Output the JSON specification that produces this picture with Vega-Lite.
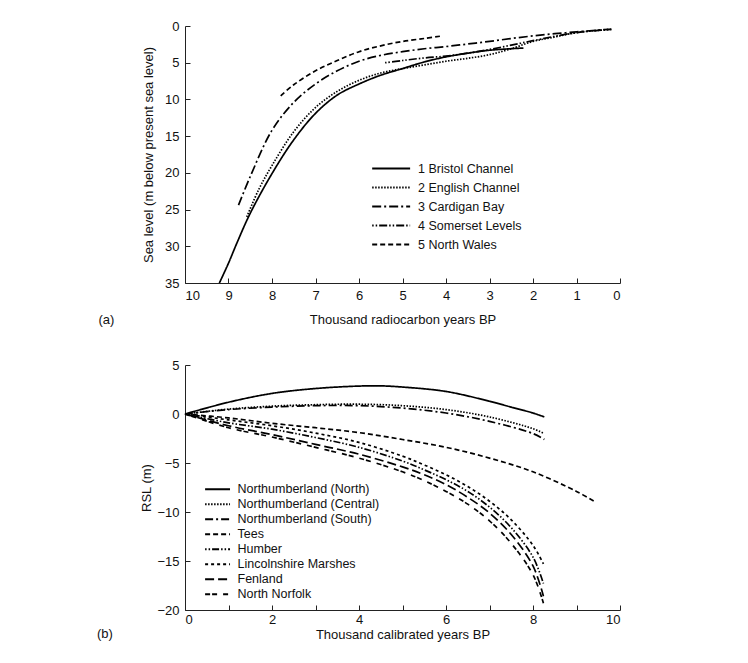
{
  "$schema": "https://vega.github.io/schema/vega-lite/v6.json",
  "background": "white",
  "padding": {"left": 96, "top": 20, "right": 10, "bottom": 10},
  "spacing": 32,
  "resolve": {"scale": {"strokeDash": "independent"}, "legend": {"strokeDash": "independent"}},
  "config": {
    "font": "Liberation Sans",
    "view": {"stroke": null},
    "axis": {
      "grid": false,
      "domainColor": "#222",
      "tickColor": "#222",
      "labelColor": "#111",
      "titleColor": "#111",
      "labelFontSize": 13,
      "titleFontSize": 13,
      "titleFontWeight": "normal",
      "tickSize": -5,
      "labelPadding": 11
    },
    "legend": {
      "labelFontSize": 12.5,
      "labelColor": "#111",
      "symbolStrokeColor": "black",
      "symbolStrokeWidth": 1.8
    }
  },
  "datasets": {
    "top": [
      {"s": "1 Bristol Channel", "kyr": 9.21, "m": 35},
      {"s": "1 Bristol Channel", "kyr": 9.0, "m": 32.3},
      {"s": "1 Bristol Channel", "kyr": 8.81, "m": 29.6},
      {"s": "1 Bristol Channel", "kyr": 8.5, "m": 25.5},
      {"s": "1 Bristol Channel", "kyr": 8.0, "m": 20.1},
      {"s": "1 Bristol Channel", "kyr": 7.5, "m": 15.5},
      {"s": "1 Bristol Channel", "kyr": 7.0, "m": 11.9},
      {"s": "1 Bristol Channel", "kyr": 6.5, "m": 9.4},
      {"s": "1 Bristol Channel", "kyr": 6.0, "m": 7.9},
      {"s": "1 Bristol Channel", "kyr": 5.5, "m": 6.7},
      {"s": "1 Bristol Channel", "kyr": 5.0, "m": 5.8},
      {"s": "1 Bristol Channel", "kyr": 4.5, "m": 4.9},
      {"s": "1 Bristol Channel", "kyr": 4.0, "m": 4.2},
      {"s": "1 Bristol Channel", "kyr": 3.5, "m": 3.7},
      {"s": "1 Bristol Channel", "kyr": 3.0, "m": 3.3},
      {"s": "1 Bristol Channel", "kyr": 2.22, "m": 3.0},
      {"s": "2 English Channel", "kyr": 8.58, "m": 26},
      {"s": "2 English Channel", "kyr": 8.3, "m": 22.2},
      {"s": "2 English Channel", "kyr": 8.0, "m": 19.0},
      {"s": "2 English Channel", "kyr": 7.5, "m": 14.4},
      {"s": "2 English Channel", "kyr": 7.0, "m": 11.1},
      {"s": "2 English Channel", "kyr": 6.5, "m": 8.9},
      {"s": "2 English Channel", "kyr": 6.0, "m": 7.4},
      {"s": "2 English Channel", "kyr": 5.5, "m": 6.4},
      {"s": "2 English Channel", "kyr": 5.0, "m": 5.8},
      {"s": "2 English Channel", "kyr": 4.5, "m": 5.3},
      {"s": "2 English Channel", "kyr": 4.0, "m": 4.8},
      {"s": "2 English Channel", "kyr": 3.5, "m": 4.4},
      {"s": "2 English Channel", "kyr": 3.0, "m": 3.9},
      {"s": "2 English Channel", "kyr": 2.5, "m": 3.1},
      {"s": "2 English Channel", "kyr": 2.0, "m": 2.1},
      {"s": "2 English Channel", "kyr": 1.5, "m": 1.5},
      {"s": "2 English Channel", "kyr": 1.0, "m": 0.9},
      {"s": "2 English Channel", "kyr": 0.5, "m": 0.6},
      {"s": "2 English Channel", "kyr": 0.2, "m": 0.45},
      {"s": "3 Cardigan Bay", "kyr": 8.77, "m": 24.4},
      {"s": "3 Cardigan Bay", "kyr": 8.5, "m": 20.5},
      {"s": "3 Cardigan Bay", "kyr": 8.0, "m": 14.2},
      {"s": "3 Cardigan Bay", "kyr": 7.5, "m": 10.4},
      {"s": "3 Cardigan Bay", "kyr": 7.0, "m": 7.9},
      {"s": "3 Cardigan Bay", "kyr": 6.5, "m": 6.1},
      {"s": "3 Cardigan Bay", "kyr": 6.0, "m": 4.8},
      {"s": "3 Cardigan Bay", "kyr": 5.5, "m": 4.0},
      {"s": "3 Cardigan Bay", "kyr": 5.0, "m": 3.5},
      {"s": "3 Cardigan Bay", "kyr": 4.5, "m": 3.1},
      {"s": "3 Cardigan Bay", "kyr": 4.0, "m": 2.8},
      {"s": "3 Cardigan Bay", "kyr": 3.5, "m": 2.45},
      {"s": "3 Cardigan Bay", "kyr": 3.0, "m": 2.1},
      {"s": "3 Cardigan Bay", "kyr": 2.5, "m": 1.7},
      {"s": "3 Cardigan Bay", "kyr": 2.0, "m": 1.35},
      {"s": "3 Cardigan Bay", "kyr": 1.5, "m": 1.05},
      {"s": "3 Cardigan Bay", "kyr": 1.0, "m": 0.8},
      {"s": "3 Cardigan Bay", "kyr": 0.5, "m": 0.55},
      {"s": "3 Cardigan Bay", "kyr": 0.2, "m": 0.45},
      {"s": "4 Somerset Levels", "kyr": 5.4, "m": 5.0},
      {"s": "4 Somerset Levels", "kyr": 5.0, "m": 4.7},
      {"s": "4 Somerset Levels", "kyr": 4.5, "m": 4.35},
      {"s": "4 Somerset Levels", "kyr": 4.0, "m": 4.1},
      {"s": "4 Somerset Levels", "kyr": 3.5, "m": 3.7},
      {"s": "4 Somerset Levels", "kyr": 3.0, "m": 3.2},
      {"s": "4 Somerset Levels", "kyr": 2.5, "m": 2.6},
      {"s": "4 Somerset Levels", "kyr": 2.0, "m": 2.0},
      {"s": "4 Somerset Levels", "kyr": 1.5, "m": 1.4},
      {"s": "4 Somerset Levels", "kyr": 1.0, "m": 0.9},
      {"s": "4 Somerset Levels", "kyr": 0.5, "m": 0.6},
      {"s": "4 Somerset Levels", "kyr": 0.2, "m": 0.45},
      {"s": "5 North Wales", "kyr": 7.8, "m": 9.5},
      {"s": "5 North Wales", "kyr": 7.5, "m": 8.0},
      {"s": "5 North Wales", "kyr": 7.0, "m": 6.1},
      {"s": "5 North Wales", "kyr": 6.5, "m": 4.7},
      {"s": "5 North Wales", "kyr": 6.0, "m": 3.5},
      {"s": "5 North Wales", "kyr": 5.5, "m": 2.7},
      {"s": "5 North Wales", "kyr": 5.0, "m": 2.1},
      {"s": "5 North Wales", "kyr": 4.5, "m": 1.7},
      {"s": "5 North Wales", "kyr": 4.14, "m": 1.4}
    ],
    "bottom": [
      {"site": "Northumberland (North)", "kyr": 0, "rsl": 0},
      {"site": "Northumberland (North)", "kyr": 1, "rsl": 1.2},
      {"site": "Northumberland (North)", "kyr": 2, "rsl": 2.1},
      {"site": "Northumberland (North)", "kyr": 3, "rsl": 2.6},
      {"site": "Northumberland (North)", "kyr": 4, "rsl": 2.85},
      {"site": "Northumberland (North)", "kyr": 4.5, "rsl": 2.87},
      {"site": "Northumberland (North)", "kyr": 5, "rsl": 2.75},
      {"site": "Northumberland (North)", "kyr": 6, "rsl": 2.3},
      {"site": "Northumberland (North)", "kyr": 7, "rsl": 1.3},
      {"site": "Northumberland (North)", "kyr": 7.5, "rsl": 0.7},
      {"site": "Northumberland (North)", "kyr": 8, "rsl": 0.1},
      {"site": "Northumberland (North)", "kyr": 8.26, "rsl": -0.3},
      {"site": "Northumberland (Central)", "kyr": 0, "rsl": 0},
      {"site": "Northumberland (Central)", "kyr": 1, "rsl": 0.5},
      {"site": "Northumberland (Central)", "kyr": 2, "rsl": 0.8},
      {"site": "Northumberland (Central)", "kyr": 3, "rsl": 0.95},
      {"site": "Northumberland (Central)", "kyr": 4, "rsl": 1.0},
      {"site": "Northumberland (Central)", "kyr": 5, "rsl": 0.85},
      {"site": "Northumberland (Central)", "kyr": 6, "rsl": 0.45},
      {"site": "Northumberland (Central)", "kyr": 7, "rsl": -0.3},
      {"site": "Northumberland (Central)", "kyr": 8, "rsl": -1.5},
      {"site": "Northumberland (Central)", "kyr": 8.26, "rsl": -2.0},
      {"site": "Northumberland (South)", "kyr": 0, "rsl": 0},
      {"site": "Northumberland (South)", "kyr": 1, "rsl": 0.45},
      {"site": "Northumberland (South)", "kyr": 2, "rsl": 0.7},
      {"site": "Northumberland (South)", "kyr": 3, "rsl": 0.85},
      {"site": "Northumberland (South)", "kyr": 4, "rsl": 0.85},
      {"site": "Northumberland (South)", "kyr": 5, "rsl": 0.6},
      {"site": "Northumberland (South)", "kyr": 6, "rsl": 0.1},
      {"site": "Northumberland (South)", "kyr": 7, "rsl": -0.75},
      {"site": "Northumberland (South)", "kyr": 8, "rsl": -2.0},
      {"site": "Northumberland (South)", "kyr": 8.26, "rsl": -2.6},
      {"site": "Tees", "kyr": 0, "rsl": 0},
      {"site": "Tees", "kyr": 1, "rsl": -0.4},
      {"site": "Tees", "kyr": 2, "rsl": -0.95},
      {"site": "Tees", "kyr": 3, "rsl": -1.4},
      {"site": "Tees", "kyr": 4, "rsl": -1.9},
      {"site": "Tees", "kyr": 5, "rsl": -2.6},
      {"site": "Tees", "kyr": 6, "rsl": -3.4},
      {"site": "Tees", "kyr": 7, "rsl": -4.5},
      {"site": "Tees", "kyr": 8, "rsl": -5.9},
      {"site": "Tees", "kyr": 9, "rsl": -7.9},
      {"site": "Tees", "kyr": 9.42, "rsl": -8.95},
      {"site": "Humber", "kyr": 0, "rsl": 0},
      {"site": "Humber", "kyr": 1, "rsl": -0.9},
      {"site": "Humber", "kyr": 2, "rsl": -1.55},
      {"site": "Humber", "kyr": 3, "rsl": -2.4},
      {"site": "Humber", "kyr": 4, "rsl": -3.4},
      {"site": "Humber", "kyr": 5, "rsl": -4.8},
      {"site": "Humber", "kyr": 5.5, "rsl": -5.7},
      {"site": "Humber", "kyr": 6, "rsl": -6.7},
      {"site": "Humber", "kyr": 6.5, "rsl": -7.9},
      {"site": "Humber", "kyr": 7, "rsl": -9.5},
      {"site": "Humber", "kyr": 7.5, "rsl": -11.6},
      {"site": "Humber", "kyr": 8, "rsl": -14.6},
      {"site": "Humber", "kyr": 8.24, "rsl": -17.3},
      {"site": "Lincolnshire Marshes", "kyr": 0, "rsl": 0},
      {"site": "Lincolnshire Marshes", "kyr": 1, "rsl": -0.6},
      {"site": "Lincolnshire Marshes", "kyr": 2, "rsl": -1.2},
      {"site": "Lincolnshire Marshes", "kyr": 3, "rsl": -1.95},
      {"site": "Lincolnshire Marshes", "kyr": 4, "rsl": -2.9},
      {"site": "Lincolnshire Marshes", "kyr": 5, "rsl": -4.3},
      {"site": "Lincolnshire Marshes", "kyr": 5.5, "rsl": -5.2},
      {"site": "Lincolnshire Marshes", "kyr": 6, "rsl": -6.2},
      {"site": "Lincolnshire Marshes", "kyr": 6.5, "rsl": -7.4},
      {"site": "Lincolnshire Marshes", "kyr": 7, "rsl": -8.9},
      {"site": "Lincolnshire Marshes", "kyr": 7.5, "rsl": -10.8},
      {"site": "Lincolnshire Marshes", "kyr": 8, "rsl": -13.4},
      {"site": "Lincolnshire Marshes", "kyr": 8.24, "rsl": -15.3},
      {"site": "Fenland", "kyr": 0, "rsl": 0},
      {"site": "Fenland", "kyr": 1, "rsl": -1.2},
      {"site": "Fenland", "kyr": 2, "rsl": -2.1},
      {"site": "Fenland", "kyr": 3, "rsl": -3.1},
      {"site": "Fenland", "kyr": 4, "rsl": -4.1},
      {"site": "Fenland", "kyr": 5, "rsl": -5.4},
      {"site": "Fenland", "kyr": 5.5, "rsl": -6.2},
      {"site": "Fenland", "kyr": 6, "rsl": -7.2},
      {"site": "Fenland", "kyr": 6.5, "rsl": -8.5},
      {"site": "Fenland", "kyr": 7, "rsl": -10.1},
      {"site": "Fenland", "kyr": 7.5, "rsl": -12.3},
      {"site": "Fenland", "kyr": 8, "rsl": -15.5},
      {"site": "Fenland", "kyr": 8.24, "rsl": -18.6},
      {"site": "North Norfolk", "kyr": 0, "rsl": 0},
      {"site": "North Norfolk", "kyr": 1, "rsl": -1.4},
      {"site": "North Norfolk", "kyr": 2, "rsl": -2.35},
      {"site": "North Norfolk", "kyr": 3, "rsl": -3.4},
      {"site": "North Norfolk", "kyr": 4, "rsl": -4.5},
      {"site": "North Norfolk", "kyr": 5, "rsl": -5.9},
      {"site": "North Norfolk", "kyr": 5.5, "rsl": -6.8},
      {"site": "North Norfolk", "kyr": 6, "rsl": -7.9},
      {"site": "North Norfolk", "kyr": 6.5, "rsl": -9.2},
      {"site": "North Norfolk", "kyr": 7, "rsl": -10.9},
      {"site": "North Norfolk", "kyr": 7.5, "rsl": -13.2},
      {"site": "North Norfolk", "kyr": 8, "rsl": -16.4},
      {"site": "North Norfolk", "kyr": 8.24, "rsl": -19.3}
    ]
  },
  "vconcat": [
    {
      "width": 435,
      "height": 257,
      "data": {"name": "top"},
      "title": {"text": "(a)", "orient": "bottom", "anchor": "start", "dx": -44, "offset": -12, "fontSize": 13, "fontWeight": "normal", "color": "#111"},
      "mark": {"type": "line", "color": "black", "strokeWidth": 1.7, "interpolate": "catmull-rom"},
      "encoding": {
        "x": {"field": "kyr", "type": "quantitative", "scale": {"domain": [0, 10], "reverse": true, "nice": false},
              "axis": {"values": [0,1,2,3,4,5,6,7,8,9,10], "title": "Thousand radiocarbon years BP", "titlePadding": 11}},
        "y": {"field": "m", "type": "quantitative", "scale": {"domain": [0, 35], "reverse": true, "nice": false},
              "axis": {"values": [0,5,10,15,20,25,30,35], "title": "Sea level (m below present sea level)", "titlePadding": 9}},
        "strokeDash": {"field": "s", "type": "nominal",
          "scale": {"domain": ["1 Bristol Channel", "2 English Channel", "3 Cardigan Bay", "4 Somerset Levels", "5 North Wales"],
                    "range": [[1, 0], [1.5, 1.5], [9, 3, 2, 3], [1.5, 2, 1.5, 2, 8, 2], [5, 3]]},
          "legend": {"title": null, "orient": "none", "legendX": 186, "legendY": 135, "symbolType": "M-1,0L5,0", "symbolSize": 160, "labelOffset": 32, "rowPadding": 5}}
      }
    },
    {
      "width": 435,
      "height": 245,
      "data": {"name": "bottom"},
      "title": {"text": "(b)", "orient": "bottom", "anchor": "start", "dx": -44, "offset": -13, "fontSize": 13, "fontWeight": "normal", "color": "#111"},
      "mark": {"type": "line", "color": "black", "strokeWidth": 1.7, "interpolate": "catmull-rom"},
      "encoding": {
        "x": {"field": "kyr", "type": "quantitative", "scale": {"domain": [0, 10], "nice": false},
              "axis": {"values": [0,1,2,3,4,5,6,7,8,9,10], "labelExpr": "datum.value % 2 == 0 ? datum.label : ''", "labelPadding": 8, "title": "Thousand calibrated years BP", "titlePadding": 2}},
        "y": {"field": "rsl", "type": "quantitative", "scale": {"domain": [-20, 5], "nice": false},
              "axis": {"values": [-20,-15,-10,-5,0,5], "title": "RSL (m)", "titlePadding": 3}},
        "strokeDash": {"field": "site", "type": "nominal",
          "scale": {"domain": ["Northumberland (North)", "Northumberland (Central)", "Northumberland (South)", "Tees", "Humber", "Lincolnshire Marshes", "Fenland", "North Norfolk"],
                    "range": [[1, 0], [1.5, 1.5], [8, 3, 2, 3], [5, 3], [1.5, 2, 1.5, 2, 7, 2], [3, 3], [9, 4], [5, 2, 5, 6]]},
          "legend": {"title": null, "orient": "none", "legendX": 18, "legendY": 118, "symbolType": "M-1,0L5,0", "symbolSize": 69, "labelOffset": 22, "rowPadding": 2}}
      }
    }
  ]
}
